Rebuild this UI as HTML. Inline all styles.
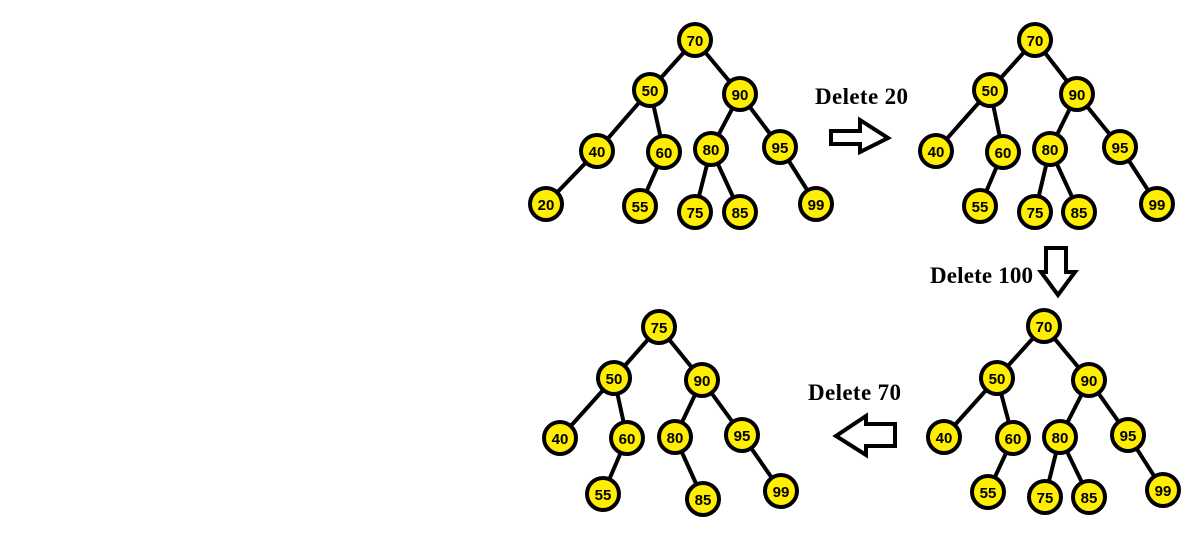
<!DOCTYPE html>
<html><head><style>body{margin:0;background:#fff}svg{display:block}</style></head><body>
<svg width="1193" height="533" xmlns="http://www.w3.org/2000/svg">
<style>
.e{stroke:#000;stroke-width:4}
.n circle{fill:#ffee00;stroke:#000;stroke-width:4}
.n text{font-family:"Liberation Sans",sans-serif;font-weight:bold;font-size:15px;text-anchor:middle;fill:#000}
.l{font-family:"Liberation Serif",serif;font-weight:bold;font-size:23px}
.a{fill:#fff;stroke:#000;stroke-width:4}
</style>
<g id="t1">
<g class="e">
<line x1="695" y1="40" x2="650" y2="90"/><line x1="695" y1="40" x2="740" y2="94"/>
<line x1="650" y1="90" x2="597" y2="151"/><line x1="650" y1="90" x2="664" y2="152"/>
<line x1="740" y1="94" x2="711" y2="149"/><line x1="740" y1="94" x2="780" y2="147"/>
<line x1="597" y1="151" x2="546" y2="204"/><line x1="664" y1="152" x2="640" y2="206"/>
<line x1="711" y1="149" x2="695" y2="212"/><line x1="711" y1="149" x2="740" y2="212"/>
<line x1="780" y1="147" x2="816" y2="204"/>
</g>
<g class="n">
<circle cx="695" cy="40" r="16"/><text x="695" y="46">70</text>
<circle cx="650" cy="90" r="16"/><text x="650" y="96">50</text>
<circle cx="740" cy="94" r="16"/><text x="740" y="100">90</text>
<circle cx="597" cy="151" r="16"/><text x="597" y="157">40</text>
<circle cx="664" cy="152" r="16"/><text x="664" y="158">60</text>
<circle cx="711" cy="149" r="16"/><text x="711" y="155">80</text>
<circle cx="780" cy="147" r="16"/><text x="780" y="153">95</text>
<circle cx="546" cy="204" r="16"/><text x="546" y="210">20</text>
<circle cx="640" cy="206" r="16"/><text x="640" y="212">55</text>
<circle cx="695" cy="212" r="16"/><text x="695" y="218">75</text>
<circle cx="740" cy="212" r="16"/><text x="740" y="218">85</text>
<circle cx="816" cy="204" r="16"/><text x="816" y="210">99</text>
</g></g>
<g id="t2">
<g class="e">
<line x1="1035" y1="40" x2="990" y2="90"/><line x1="1035" y1="40" x2="1077" y2="94"/>
<line x1="990" y1="90" x2="936" y2="151"/><line x1="990" y1="90" x2="1003" y2="152"/>
<line x1="1077" y1="94" x2="1050" y2="149"/><line x1="1077" y1="94" x2="1120" y2="147"/>
<line x1="1003" y1="152" x2="980" y2="206"/>
<line x1="1050" y1="149" x2="1035" y2="212"/><line x1="1050" y1="149" x2="1079" y2="212"/>
<line x1="1120" y1="147" x2="1157" y2="204"/>
</g>
<g class="n">
<circle cx="1035" cy="40" r="16"/><text x="1035" y="46">70</text>
<circle cx="990" cy="90" r="16"/><text x="990" y="96">50</text>
<circle cx="1077" cy="94" r="16"/><text x="1077" y="100">90</text>
<circle cx="936" cy="151" r="16"/><text x="936" y="157">40</text>
<circle cx="1003" cy="152" r="16"/><text x="1003" y="158">60</text>
<circle cx="1050" cy="149" r="16"/><text x="1050" y="155">80</text>
<circle cx="1120" cy="147" r="16"/><text x="1120" y="153">95</text>
<circle cx="980" cy="206" r="16"/><text x="980" y="212">55</text>
<circle cx="1035" cy="212" r="16"/><text x="1035" y="218">75</text>
<circle cx="1079" cy="212" r="16"/><text x="1079" y="218">85</text>
<circle cx="1157" cy="204" r="16"/><text x="1157" y="210">99</text>
</g></g>
<g id="t3">
<g class="e">
<line x1="1044" y1="326" x2="997" y2="378"/><line x1="1044" y1="326" x2="1089" y2="380"/>
<line x1="997" y1="378" x2="944" y2="437"/><line x1="997" y1="378" x2="1013" y2="438"/>
<line x1="1089" y1="380" x2="1060" y2="437"/><line x1="1089" y1="380" x2="1128" y2="435"/>
<line x1="1013" y1="438" x2="988" y2="492"/>
<line x1="1060" y1="437" x2="1045" y2="497"/><line x1="1060" y1="437" x2="1089" y2="497"/>
<line x1="1128" y1="435" x2="1163" y2="490"/>
</g>
<g class="n">
<circle cx="1044" cy="326" r="16"/><text x="1044" y="332">70</text>
<circle cx="997" cy="378" r="16"/><text x="997" y="384">50</text>
<circle cx="1089" cy="380" r="16"/><text x="1089" y="386">90</text>
<circle cx="944" cy="437" r="16"/><text x="944" y="443">40</text>
<circle cx="1013" cy="438" r="16"/><text x="1013" y="444">60</text>
<circle cx="1060" cy="437" r="16"/><text x="1060" y="443">80</text>
<circle cx="1128" cy="435" r="16"/><text x="1128" y="441">95</text>
<circle cx="988" cy="492" r="16"/><text x="988" y="498">55</text>
<circle cx="1045" cy="497" r="16"/><text x="1045" y="503">75</text>
<circle cx="1089" cy="497" r="16"/><text x="1089" y="503">85</text>
<circle cx="1163" cy="490" r="16"/><text x="1163" y="496">99</text>
</g></g>
<g id="t4">
<g class="e">
<line x1="659" y1="327" x2="614" y2="378"/><line x1="659" y1="327" x2="702" y2="380"/>
<line x1="614" y1="378" x2="560" y2="438"/><line x1="614" y1="378" x2="627" y2="438"/>
<line x1="702" y1="380" x2="675" y2="437"/><line x1="702" y1="380" x2="742" y2="435"/>
<line x1="627" y1="438" x2="603" y2="494"/>
<line x1="675" y1="437" x2="703" y2="499"/>
<line x1="742" y1="435" x2="781" y2="491"/>
</g>
<g class="n">
<circle cx="659" cy="327" r="16"/><text x="659" y="333">75</text>
<circle cx="614" cy="378" r="16"/><text x="614" y="384">50</text>
<circle cx="702" cy="380" r="16"/><text x="702" y="386">90</text>
<circle cx="560" cy="438" r="16"/><text x="560" y="444">40</text>
<circle cx="627" cy="438" r="16"/><text x="627" y="444">60</text>
<circle cx="675" cy="437" r="16"/><text x="675" y="443">80</text>
<circle cx="742" cy="435" r="16"/><text x="742" y="441">95</text>
<circle cx="603" cy="494" r="16"/><text x="603" y="500">55</text>
<circle cx="703" cy="499" r="16"/><text x="703" y="505">85</text>
<circle cx="781" cy="491" r="16"/><text x="781" y="497">99</text>
</g></g>
<text class="l" x="815" y="104" textLength="93">Delete 20</text>
<text class="l" x="930" y="283" textLength="103">Delete 100</text>
<text class="l" x="808" y="400" textLength="93">Delete 70</text>
<polygon class="a" points="831,131 860,131 860,120 888,138 860,152 860,144 831,144"/>
<polygon class="a" points="1046,248 1066,248 1066,272 1075,272 1058,295 1041,272 1046,272"/>
<polygon class="a" points="895,424 866,424 866,416 836,436 866,455 866,446 895,446"/>
</svg>
</body></html>
